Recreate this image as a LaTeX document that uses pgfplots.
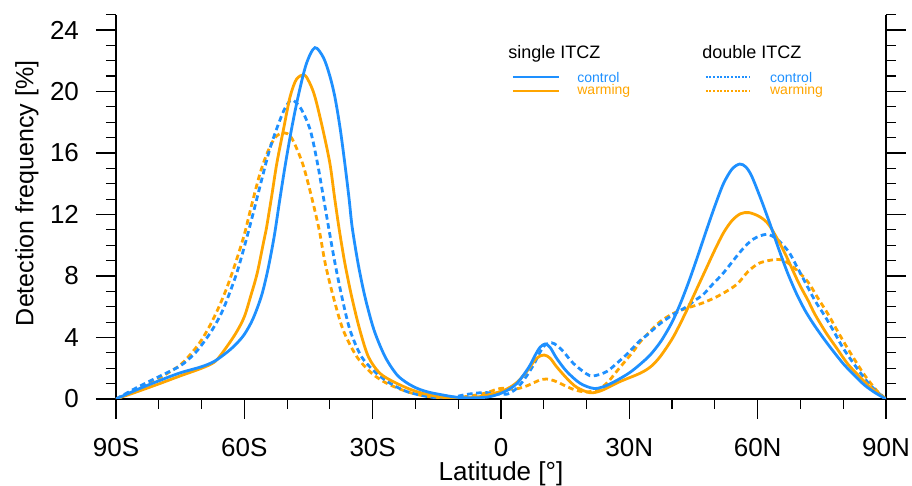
\documentclass[border=0pt]{standalone}
\usepackage{fontspec}
\setmainfont{Liberation Sans}
\usepackage{pgfplots}
\usepackage{pgfplotstable}
\pgfplotsset{compat=1.18}
\definecolor{cblue}{RGB}{30,144,255}
\definecolor{corange}{RGB}{255,165,0}
\pgfplotstableread{
lat val
-90 0
-85 0.62
-80 1.18
-75 1.7
-70 2.1
-67 2.45
-64 3.05
-62 3.55
-60 4.2
-58 5.2
-56 6.7
-54.5 8.4
-53 10.6
-51.8 12.8
-50.5 15.1
-49 17.5
-47.4 19.7
-45.5 21.8
-43.5 22.85
-41.5 22.2
-40 21.0
-38.8 19.6
-37.6 17.6
-36.5 15.3
-35.5 13.0
-34.8 11.2
-33.4 8.8
-31.8 6.65
-29.7 4.5
-27.1 2.75
-24.4 1.6
-22 1.05
-19.5 0.68
-17 0.45
-14 0.28
-10.5 0.12
-7 0.07
-3 0.13
0 0.37
2 0.65
3.7 1.0
5.5 1.65
6.8 2.2
8 2.85
9.1 3.35
10.3 3.58
11.5 3.35
13 2.65
15.4 1.78
18.5 1.02
21.6 0.69
24 0.8
27 1.2
30 1.7
32.5 2.25
35 2.9
37.5 3.8
40 5.0
42 6.25
44 7.7
46 9.3
48 10.95
50 12.55
52 14.0
54 14.95
55.8 15.28
57.2 15.1
58.6 14.5
60.9 12.9
63 11.3
65 9.7
67 8.2
69 6.9
71 5.8
73 4.9
75 4.1
77 3.35
80 2.3
82.4 1.6
85 0.9
87.5 0.4
90 0
}\sctrl
\pgfplotstableread{
lat val
-90 0
-85 0.48
-80 0.98
-75 1.5
-70 2.0
-67 2.4
-65 3.05
-62 4.27
-60 5.35
-58.5 6.7
-57 8.17
-55.5 10.2
-54.9 11.0
-53.6 13.2
-52.4 15.33
-50.8 17.6
-49.3 19.66
-47.8 20.8
-46.0 21.07
-44.8 20.6
-43.5 19.66
-41.7 17.6
-40.0 15.33
-38.9 13.1
-37.8 11.0
-36.5 8.83
-34.9 6.65
-33.0 4.49
-31.0 2.75
-28.3 1.67
-24.4 1.02
-19.7 0.48
-14 0.12
-10 0.05
-5 0.15
-0.2 0.48
2.1 0.76
4 1.15
6 1.78
8.3 2.65
10.1 2.86
11.5 2.65
13 2.1
15.4 1.34
17.7 0.76
20.8 0.41
23.5 0.55
27.8 1.13
32.5 1.67
35 2.1
37.2 2.75
40 3.9
42 4.95
44 6.1
46 7.3
48 8.5
50 9.7
52 10.8
54 11.6
56 12.05
58 12.12
60.5 11.85
62.7 11.3
66 9.69
69.5 7.6
71.8 6.4
73.4 5.5
76 4.3
78.5 3.3
81 2.3
83.5 1.55
86 0.85
88 0.4
90 0
}\swarm
\pgfplotstableread{
lat val
-90 0
-85 0.76
-80 1.45
-75 2.15
-72 2.85
-70 3.5
-67.5 4.5
-65 5.8
-62 8.0
-60 9.9
-58 12.0
-56 14.2
-54 16.3
-52 17.9
-50.5 18.9
-48.9 19.45
-46.8 18.9
-44.6 17.5
-42.9 15.33
-41.5 13.1
-40.2 11.0
-38.8 8.83
-37.2 6.65
-35.3 4.49
-32.6 2.75
-29.1 1.67
-25.9 1.02
-22 0.48
-17 0.15
-12.7 0.05
-8 0.3
-4 0.42
-1 0.35
1.5 0.32
3.7 0.7
5.5 1.3
7.6 2.21
9.9 3.4
11.8 3.66
13.2 3.45
14.6 3.08
16.9 2.32
20 1.63
21.6 1.5
24.7 1.78
27.8 2.5
29.4 2.9
32.5 3.8
34.1 4.15
37.2 4.9
40.3 5.5
43.4 6.0
45 6.35
47.3 6.8
49.6 7.5
52 8.2
56.3 9.69
59 10.4
62.1 10.71
64.5 10.4
67.2 9.6
69 8.7
71.1 7.6
73.4 6.4
75.7 5.4
78 4.3
80 3.3
82.2 2.4
84.3 1.6
86 1.0
88 0.45
90 0
}\dctrl
\pgfplotstableread{
lat val
-90 0
-85 0.63
-80 1.34
-75 2.21
-72 3.1
-70 3.84
-68 4.8
-66 5.95
-64 7.3
-62 8.9
-60 10.7
-58.3 12.6
-56.3 14.7
-54.5 16.1
-52.8 17.0
-50.9 17.32
-49 17.0
-46.4 15.33
-44.3 13.16
-42.5 11.0
-41.1 8.83
-39.2 6.65
-36.9 4.49
-33.7 2.75
-30.2 1.67
-26.7 1.02
-22 0.48
-18 0.2
-14 0.08
-10 0.1
-6 0.25
-3.3 0.41
-1 0.63
0.5 0.7
2.1 0.63
4 0.68
6 0.85
8 1.1
9.1 1.24
10.7 1.3
12.3 1.2
13.8 1.02
16.9 0.63
20 0.45
23.1 0.69
25 1.1
27 1.78
29 2.45
30.9 3.08
32.5 3.7
34.8 4.38
37.2 5.03
40.3 5.57
43.4 5.9
47.3 6.26
51.2 6.76
55.1 7.45
57.8 8.3
60.5 8.85
64.4 9.08
66.5 8.95
69.1 8.39
71.8 7.6
74 6.6
76.5 5.5
78.5 4.5
80.8 3.4
82.8 2.5
84.7 1.67
86.5 1.0
88 0.5
90 0
}\dwarm
\begin{document}
\begin{tikzpicture}
\begin{axis}[
  scale only axis, width=385pt, height=192.2pt,
  xmin=-90, xmax=90, ymin=0, ymax=25,
  axis x line=bottom, axis y line=box,
  axis line style={-, line width=0.9pt},
  tick align=outside,
  xtick={-90,-60,-30,0,30,60,90},
  xticklabels={90S,60S,30S,0,30N,60N,90N},
  minor xtick={-80,-70,-50,-40,-20,-10,10,20,40,50,70,80},
  ytick={0,4,8,12,16,20,24},
  minor ytick={1,2,3,5,6,7,9,10,11,13,14,15,17,18,19,21,22,23,25},
  major tick length=10pt, minor tick length=5pt,
  every major tick/.style={line width=0.8pt, black},
  every minor tick/.style={line width=0.6pt, black},
  tick label style={font=\fontsize{13}{15}\selectfont},
  /pgf/number format/assume math mode=true,
  xticklabel style={yshift=-6pt},
  yticklabel style={xshift=-5pt},
  xlabel={Latitude [°]},
  ylabel={Detection frequency [\%]},
  xlabel style={font=\fontsize{13}{15}\selectfont, at={(axis description cs:0.5,-0.2133)}, anchor=base},
  ylabel style={font=\fontsize{12.5}{15}\selectfont, at={(axis description cs:-0.1156,0.535)}, anchor=center},
  clip mode=individual,
]
\addplot[corange, line width=1.4pt, smooth, tension=0.5, dash pattern=on 2.8pt off 1.8pt] table[x=lat,y=val] {\dwarm};
\addplot[cblue, line width=1.4pt, smooth, tension=0.5, dash pattern=on 2.8pt off 1.8pt] table[x=lat,y=val] {\dctrl};
\addplot[corange, line width=1.4pt, smooth, tension=0.5] table[x=lat,y=val] {\swarm};
\addplot[cblue, line width=1.4pt, smooth, tension=0.5] table[x=lat,y=val] {\sctrl};
% legend
\node[anchor=base west, inner sep=0pt, font=\fontsize{9}{11}\selectfont] at (axis description cs:0.509,0.8845) {single ITCZ};
\draw[cblue, line width=0.7pt] (axis description cs:0.5156,0.8377) -- (axis description cs:0.5753,0.8377);
\draw[corange, line width=0.7pt] (axis description cs:0.5156,0.8012) -- (axis description cs:0.5753,0.8012);
\node[anchor=base west, inner sep=0pt, font=\fontsize{7}{8}\selectfont, text=cblue] at (axis description cs:0.5987,0.8228) {control};
\node[anchor=base west, inner sep=0pt, font=\fontsize{7}{8}\selectfont, text=corange] at (axis description cs:0.5987,0.7927) {warming};
\node[anchor=base west, inner sep=0pt, font=\fontsize{9}{11}\selectfont] at (axis description cs:0.761,0.8845) {double ITCZ};
\draw[cblue, line width=0.7pt, dash pattern=on 1pt off 0.8pt] (axis description cs:0.766,0.8377) -- (axis description cs:0.823,0.8377);
\draw[corange, line width=0.7pt, dash pattern=on 1pt off 0.8pt] (axis description cs:0.766,0.8012) -- (axis description cs:0.823,0.8012);
\node[anchor=base west, inner sep=0pt, font=\fontsize{7}{8}\selectfont, text=cblue] at (axis description cs:0.849,0.8228) {control};
\node[anchor=base west, inner sep=0pt, font=\fontsize{7}{8}\selectfont, text=corange] at (axis description cs:0.849,0.7927) {warming};
\end{axis}
\pgfresetboundingbox
\path (-58pt,-43.5pt) rectangle (398pt,199.5pt);
\end{tikzpicture}
\end{document}
